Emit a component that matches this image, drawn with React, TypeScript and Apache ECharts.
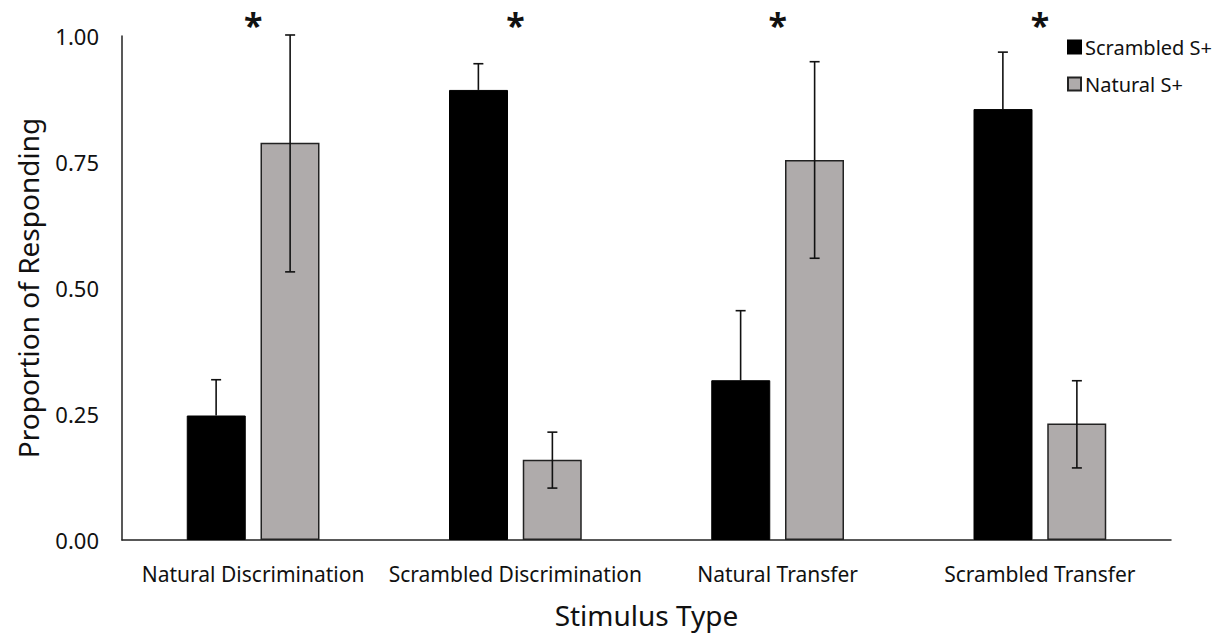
import React, { useEffect, useRef } from "react";
import * as echarts from "echarts";

const categories = [
  "Natural Discrimination",
  "Scrambled Discrimination",
  "Natural Transfer",
  "Scrambled Transfer",
];
const seriesNames = ["Scrambled S+", "Natural S+"];
const scrambledMean = [0.247, 0.893, 0.317, 0.855];
const scrambledHigh = [0.318, 0.945, 0.455, 0.968];
const naturalMean = [0.788, 0.159, 0.754, 0.231];
const naturalLow = [0.532, 0.103, 0.559, 0.143];
const naturalHigh = [1.002, 0.214, 0.949, 0.316];
const significant = [0, 1, 2, 3];
const yTicks = [0, 0.25, 0.5, 0.75, 1.0];

const FONT = "'Noto Sans', sans-serif";
const BLACK = "#000000";
const GRAY = "#afabab";
const BAR_W = 59;
const HALF_STEP = 37;

function errorSeries(name: string, low: number[], high: number[], sign: number, lowCap: boolean) {
  return {
    type: "custom",
    name: name + " error",
    z: 5,
    silent: true,
    data: low.map((l, i) => [i, l, high[i]]),
    renderItem: (params: any, api: any) => {
      const lo = api.coord([api.value(0), api.value(1)]);
      const hi = api.coord([api.value(0), api.value(2)]);
      const x = lo[0] + sign * HALF_STEP;
      const cap = 5;
      const style = { stroke: "#111", lineWidth: 1.6 };
      const children: any[] = [
        { type: "line", shape: { x1: x, y1: lo[1], x2: x, y2: hi[1] }, style },
        { type: "line", shape: { x1: x - cap, y1: hi[1], x2: x + cap, y2: hi[1] }, style },
      ];
      if (lowCap) {
        children.push({ type: "line", shape: { x1: x - cap, y1: lo[1], x2: x + cap, y2: lo[1] }, style });
      }
      return { type: "group", children };
    },
  };
}

export default function App() {
  const ref = useRef<HTMLDivElement>(null);
  useEffect(() => {
    if (!ref.current) return;
    const chart = echarts.init(ref.current, undefined, { renderer: "svg" });
    chart.setOption({
      animation: false,
      backgroundColor: "#ffffff",
      textStyle: { fontFamily: FONT },
      grid: { left: 122, right: 49, top: 36, bottom: 93, containLabel: false },
      legend: {
        data: seriesNames,
        orient: "vertical",
        left: 1062,
        top: 32,
        icon: "rect",
        itemWidth: 13,
        itemHeight: 13,
        itemGap: 17,
        textStyle: { fontFamily: FONT, fontSize: 20, color: "#111", padding: [0, 0, 0, -1] },
      },
      xAxis: {
        type: "category",
        data: categories,
        name: "Stimulus Type",
        nameLocation: "middle",
        nameGap: 61,
        nameTextStyle: { fontFamily: FONT, fontSize: 28, color: "#111" },
        axisLine: { show: true, lineStyle: { color: "#222", width: 1.5 } },
        axisTick: { show: false },
        axisLabel: { margin: 23, fontFamily: FONT, fontSize: 21, color: "#111", interval: 0 },
      },
      yAxis: {
        type: "value",
        min: 0,
        max: 1,
        interval: 0.25,
        name: "Proportion of Responding",
        nameLocation: "middle",
        nameGap: 80,
        nameTextStyle: { fontFamily: FONT, fontSize: 28, color: "#111" },
        axisLine: { show: true, lineStyle: { color: "#222", width: 1.5 } },
        axisTick: { show: false },
        splitLine: { show: false },
        axisLabel: {
          margin: 23,
          fontFamily: FONT,
          fontSize: 22,
          color: "#111",
          formatter: (v: number) => (yTicks.includes(v) ? v.toFixed(2) : ""),
        },
      },
      series: [
        {
          type: "bar",
          name: seriesNames[0],
          data: scrambledMean,
          barWidth: BAR_W,
          barGap: "25%",
          itemStyle: { color: BLACK, borderColor: BLACK, borderWidth: 1 },
        },
        {
          type: "bar",
          name: seriesNames[1],
          data: naturalMean,
          barWidth: BAR_W,
          barGap: "25%",
          itemStyle: { color: GRAY, borderColor: "#222", borderWidth: 1.5 },
        },
        errorSeries(seriesNames[0], scrambledMean, scrambledHigh, -1, false),
        errorSeries(seriesNames[1], naturalLow, naturalHigh, 1, true),
        {
          type: "custom",
          name: "significance",
          silent: true,
          z: 6,
          data: significant.map((i) => [i, 1]),
          renderItem: (params: any, api: any) => {
            const p = api.coord([api.value(0), api.value(1)]);
            return {
              type: "text",
              x: p[0],
              y: p[1] - 11,
              style: {
                text: "*",
                fontFamily: FONT,
                fontSize: 34,
                fontWeight: "bold",
                fill: "#111",
                align: "center",
                verticalAlign: "middle",
              },
            };
          },
        },
      ],
    });
    return () => chart.dispose();
  }, []);
  return (
    <div
      ref={ref}
      style={{ position: "fixed", left: 0, top: 0, width: 1220, height: 634, background: "#fff" }}
    />
  );
}
